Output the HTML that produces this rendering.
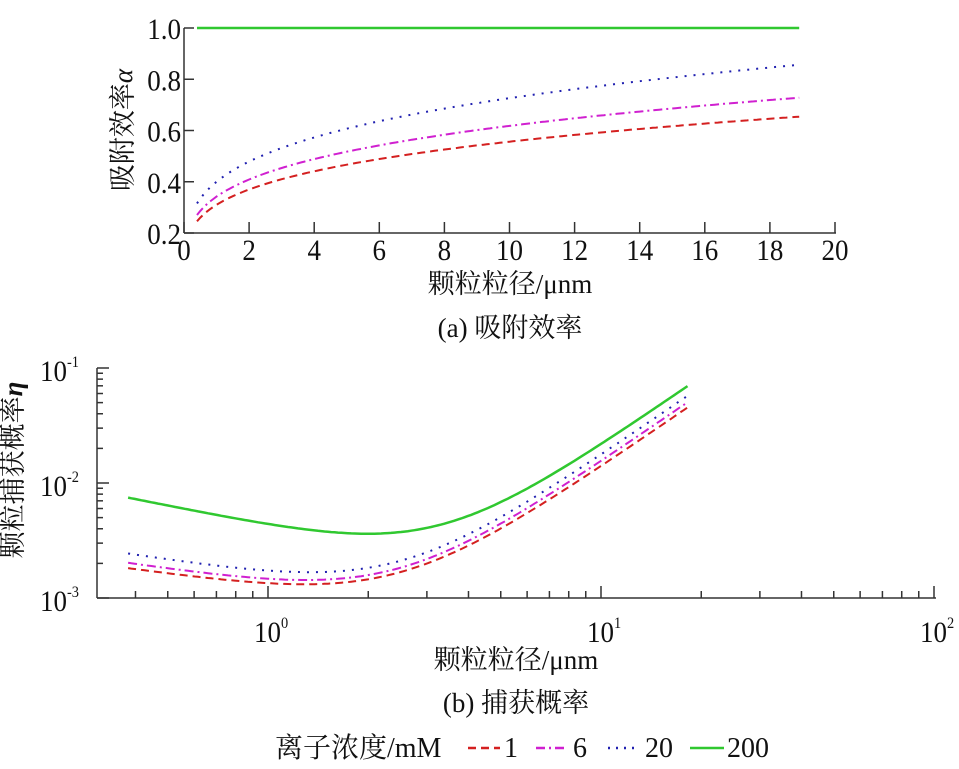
<!DOCTYPE html>
<html><head><meta charset="utf-8"><style>
html,body{margin:0;padding:0;background:#fff;width:959px;height:769px;overflow:hidden}
text{font-family:"Liberation Serif","Noto Serif CJK SC",serif;fill:#111}
</style></head><body>
<svg id="s" width="959" height="769" xmlns="http://www.w3.org/2000/svg">
<g stroke="#333" stroke-width="1.5" fill="none" id="axes"></g>
<g id="curves" fill="none"></g>
<g font-size="30" id="labels"></g>
<text x="132" y="130" font-size="27" text-anchor="middle" transform="rotate(-90 132 130)">吸附效率<tspan font-style="italic">α</tspan></text>
<text x="510" y="293" font-size="27" text-anchor="middle">颗粒粒径/μnm</text>
<text x="510" y="337" font-size="27" text-anchor="middle">(a) 吸附效率</text>
<text x="22" y="470" font-size="27" text-anchor="middle" transform="rotate(-90 22 470)">颗粒捕获概率<tspan font-style="italic" font-weight="bold">η</tspan></text>
<text x="516" y="669" font-size="27" text-anchor="middle">颗粒粒径/μnm</text>
<text x="516" y="712" font-size="27" text-anchor="middle">(b) 捕获概率</text>
<text x="275" y="757" font-size="28">离子浓度/mM</text>
<line x1="468" y1="748" x2="500" y2="748" stroke="#d42020" stroke-width="2.5" stroke-dasharray="8,5"/>
<text x="504" y="757" font-size="28">1</text>
<line x1="536" y1="748" x2="566" y2="748" stroke="#d020d0" stroke-width="2.5" stroke-dasharray="9,4,2,4"/>
<text x="573" y="757" font-size="28">6</text>
<line x1="608" y1="748" x2="640" y2="748" stroke="#2020b0" stroke-width="2.5" stroke-dasharray="2,6"/>
<text x="645" y="757" font-size="28">20</text>
<line x1="690" y1="748" x2="724" y2="748" stroke="#30c830" stroke-width="2.5"/>
<text x="727" y="757" font-size="28">200</text>
</svg>
<script>
var NS="http://www.w3.org/2000/svg";
function el(p,t,a,txt){var e=document.createElementNS(NS,t);for(var k in a)e.setAttribute(k,a[k]);if(txt!==undefined)e.innerHTML=txt;document.getElementById(p).appendChild(e);return e;}
var ax=function(x){return 184+x*32.55},ay=function(y){return 233-(y-0.2)*256.25};
el('axes','line',{x1:184,y1:28,x2:184,y2:233});
el('axes','line',{x1:184,y1:233,x2:836,y2:233});
for(var i=0;i<=20;i+=2){el('axes','line',{x1:ax(i),y1:233,x2:ax(i),y2:222});
 el('labels','text',{x:ax(i),y:260,'text-anchor':'middle'},i);}
[0.2,0.4,0.6,0.8,1.0].forEach(function(v){el('axes','line',{x1:184,y1:ay(v),x2:194,y2:ay(v)});
 el('labels','text',{x:181,y:ay(v)+11,'text-anchor':'end'},v.toFixed(1));});
function pa(a,b){var d='';for(var x=0.4;x<=18.9;x+=0.1){d+=(d?'L':'M')+ax(x).toFixed(1)+','+ay(a*Math.pow(x,b)).toFixed(1);}return d;}
el('curves','path',{d:pa(0.31,0.254),stroke:'#d42020','stroke-width':2,'stroke-dasharray':'8,5'});
el('curves','path',{d:pa(0.342,0.257),stroke:'#d020d0','stroke-width':2,'stroke-dasharray':'9,4,2,4'});
el('curves','path',{d:pa(0.40,0.259),stroke:'#2020b0','stroke-width':2,'stroke-dasharray':'2,7'});
el('curves','line',{x1:ax(0.4),y1:ay(1),x2:ax(18.9),y2:ay(1),stroke:'#30c830','stroke-width':2.5});
var bx=function(x){return 268+Math.log10(x)*333},by=function(y){return 368-(Math.log10(y)+1)*115};
el('axes','line',{x1:97,y1:368,x2:97,y2:598});
el('axes','line',{x1:97,y1:598,x2:936,y2:598});
for(var d=-1;d<=2;d++)for(var m=1;m<10;m++){var x=bx(m*Math.pow(10,d));if(x<97||x>936)continue;
 el('axes','line',{x1:x,y1:598,x2:x,y2:m==1?586:591});}
for(var d=-3;d<=-2;d++)for(var m=1;m<10;m++){var y=by(m*Math.pow(10,d));
 el('axes','line',{x1:97,y1:y,x2:m==1?109:103,y2:y});}
el('axes','line',{x1:97,y1:368,x2:109,y2:368});
[-1,-2,-3].forEach(function(e){el('labels','text',{x:40,y:by(Math.pow(10,e))+13},'10<tspan font-size="16" dy="-14">'+e+'</tspan>');});
[0,1,2].forEach(function(e){el('labels','text',{x:bx(Math.pow(10,e))-14,y:642},'10<tspan font-size="16" dy="-14">'+e+'</tspan>');});
function pb(A,p,B){var d='';for(var l=Math.log10(0.38);l<=Math.log10(18.2);l+=0.01){var x=Math.pow(10,l);var v=A*Math.pow(x,-p)+B*x*x;d+=(d?'L':'M')+bx(x).toFixed(1)+','+by(v).toFixed(1);}return d;}
el('curves','path',{d:pb(0.00121,0.41,1.36e-4),stroke:'#d42020','stroke-width':2,'stroke-dasharray':'8,5'});
el('curves','path',{d:pb(0.00132,0.43,1.51e-4),stroke:'#d020d0','stroke-width':2,'stroke-dasharray':'9,4,2,4'});
el('curves','path',{d:pb(0.00156,0.45,1.72e-4),stroke:'#2020b0','stroke-width':2,'stroke-dasharray':'2,7'});
el('curves','path',{d:pb(0.0042,0.59,2.08e-4),stroke:'#30c830','stroke-width':2.5});
var ts=document.querySelectorAll('#labels text');
for(var i=0;i<ts.length;i++){var t=ts[i];var L=t.getComputedTextLength();t.setAttribute('textLength',(L*0.9).toFixed(1));t.setAttribute('lengthAdjust','spacingAndGlyphs');}
</script>
</body></html>
